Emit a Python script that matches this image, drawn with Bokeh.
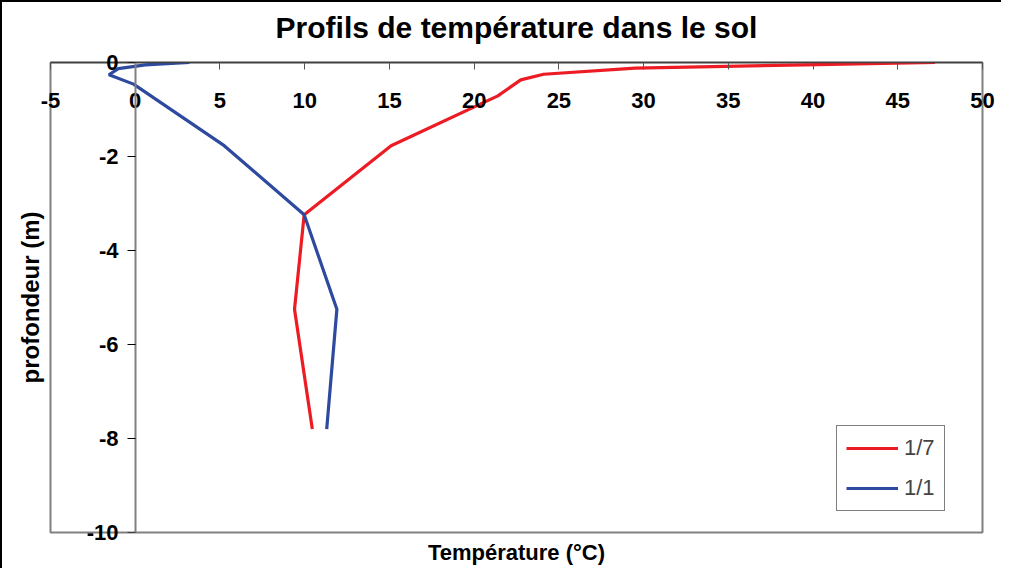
from bokeh.plotting import figure
from bokeh.models import Range1d, LinearAxis, FixedTicker, Legend, LegendItem, Title
from bokeh.embed import file_html
from bokeh.resources import INLINE

# ---- data ----
depth_17 = [0, -0.05, -0.12, -0.25, -0.37, -0.71, -1.77, -3.24, -5.25, -7.8]
temp_17 = [47.2, 39.5, 29.5, 24.1, 22.75, 21.4, 15.1, 9.97, 9.4, 10.45]
depth_11 = [0, -0.05, -0.13, -0.26, -0.46, -1.77, -3.24, -5.25, -7.8]
temp_11 = [3.2, 0.6, -1.0, -1.55, -0.1, 5.25, 9.97, 11.9, 11.3]
series_names = ["1/7", "1/1"]
x_ticks = [-5, 0, 5, 10, 15, 20, 25, 30, 35, 40, 45, 50]
y_ticks = [0, -2, -4, -6, -8, -10]

FONT = "Liberation Sans"

p = figure(width=1001, height=568,
           x_range=Range1d(-5, 50), y_range=Range1d(-10, 0),
           output_backend="svg", toolbar_location=None,
           x_axis_location=None, y_axis_location=None,
           min_border_left=48, min_border_right=21,
           min_border_top=60, min_border_bottom=37,
           styles={"border-left": "2px solid black", "border-top": "2px solid black"})
p.xgrid.visible = False
p.ygrid.visible = False
p.outline_line_color = "#808080"
p.outline_line_width = 2

p.title.text = "Profils de température dans le sol"
p.title.align = "center"
p.title.text_font = FONT
p.title.text_font_size = "30px"
p.title.text_font_style = "bold"
p.title.text_color = "black"
p.title.standoff = 0

# x axis along y = 0 (top of frame), labels pushed below the line
xax = LinearAxis(ticker=FixedTicker(ticks=x_ticks),
                 major_label_overrides={t: str(t) for t in x_ticks})
xax.axis_line_color = "#404040"
xax.axis_line_width = 1.5
xax.major_tick_line_color = "#555555"
xax.major_tick_in = 7
xax.major_tick_out = 0
xax.minor_tick_line_color = None
xax.major_label_standoff = -45
xax.major_label_text_font = FONT
xax.major_label_text_font_size = "22px"
xax.major_label_text_font_style = "bold"
xax.major_label_text_color = "black"
p.add_layout(xax, "above")
# empty spacer between axis and main title
p.add_layout(Title(text=" ", text_font_size="1px", standoff=16), "above")

# y axis labels, shifted to sit left of x = 0
ylab = LinearAxis(ticker=FixedTicker(ticks=y_ticks),
                  major_label_overrides={t: str(t) for t in y_ticks})
ylab.axis_line_color = None
ylab.major_tick_line_color = None
ylab.minor_tick_line_color = None
ylab.major_tick_in = 0
ylab.major_tick_out = 0
ylab.major_label_standoff = -68
ylab.major_label_text_font = FONT
ylab.major_label_text_font_size = "22px"
ylab.major_label_text_font_style = "bold"
ylab.major_label_text_color = "black"
p.add_layout(ylab, "left")

# y axis line and ticks at x = 0
yax = LinearAxis(fixed_location=0, ticker=FixedTicker(ticks=y_ticks),
                 major_label_overrides={t: "" for t in y_ticks})
yax.axis_line_color = "#808080"
yax.axis_line_width = 2
yax.major_tick_line_color = "black"
yax.major_tick_in = 0
yax.major_tick_out = 8
yax.minor_tick_line_color = None
yax.major_label_standoff = 0
p.add_layout(yax, "left")

p.add_layout(Title(text="profondeur (m)", align="center", vertical_align="top",
                   text_font=FONT, text_font_size="24px", text_font_style="bold",
                   text_color="black", standoff=9), "left")
p.add_layout(Title(text="Température (°C)", align="center", text_font=FONT,
                   text_font_size="22px", text_font_style="bold",
                   text_color="black", standoff=11), "below")

r1 = p.line(temp_17, depth_17, line_color="#ED1C24", line_width=3.2)
r2 = p.line(temp_11, depth_11, line_color="#2E4A9E", line_width=3.2)

legend = Legend(items=[LegendItem(label=series_names[0], renderers=[r1]),
                       LegendItem(label=series_names[1], renderers=[r2])],
                location=(786, 21))
legend.border_line_color = "black"
legend.border_line_width = 1
legend.label_text_font = FONT
legend.label_text_font_size = "22px"
legend.glyph_width = 52
legend.glyph_height = 22
legend.spacing = 14
legend.padding = 9
legend.margin = 0
legend.label_standoff = 6
p.add_layout(legend, "center")

open("out.html", "w").write(file_html(p, INLINE))
